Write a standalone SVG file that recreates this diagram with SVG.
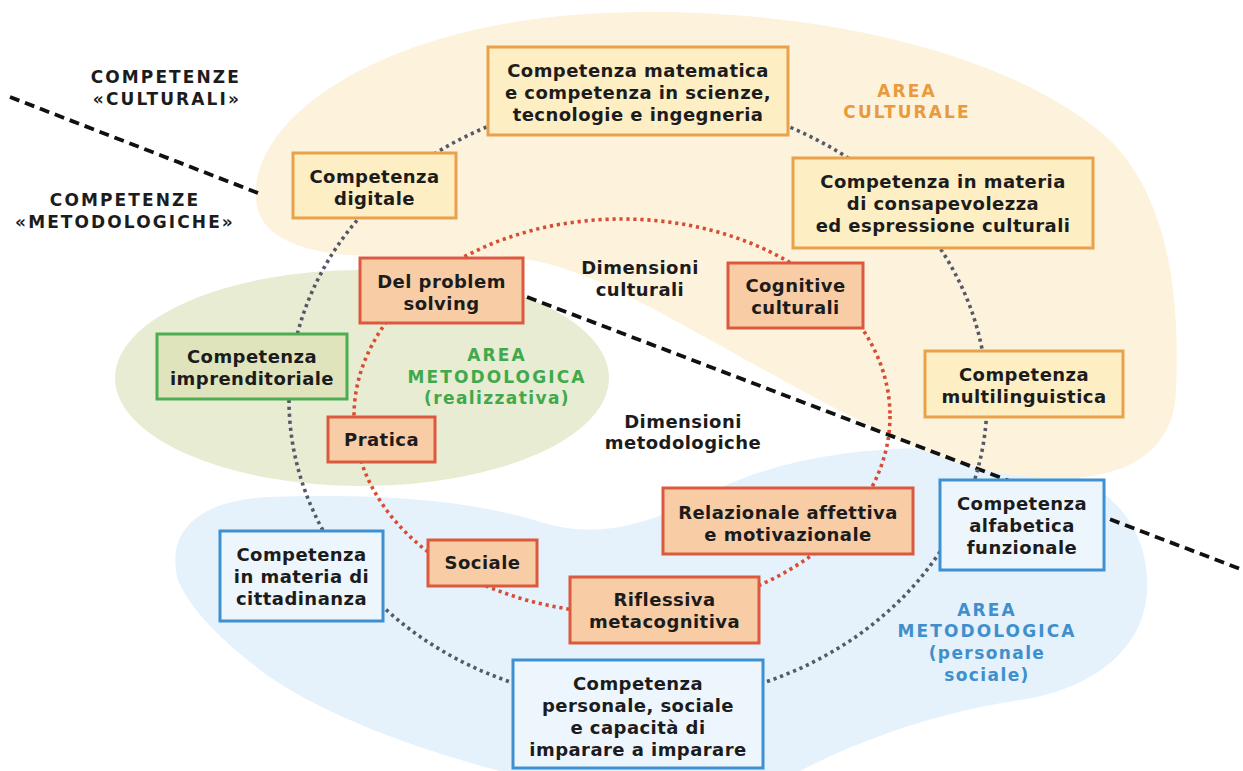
<svg xmlns="http://www.w3.org/2000/svg" width="1243" height="771" viewBox="0 0 1243 771">
  <style>
    .t { font-family: "DejaVu Sans", "Liberation Sans", sans-serif; font-weight: bold; font-size: 18px; fill: #1c1c1c; text-anchor: middle; letter-spacing: 0.45px; }
    .cap { font-family: "DejaVu Sans", "Liberation Sans", sans-serif; font-weight: bold; font-size: 17px; text-anchor: middle; letter-spacing: 2.1px; }
    .low { letter-spacing: 1.4px; }
    .k { fill: #1c1c1c; }
    .or { fill: #e89a3c; }
    .gr { fill: #3fa94c; }
    .bl { fill: #3f8fcd; }
    .by { fill: #fdeec4; stroke: #e9a24a; stroke-width: 3; }
    .bp { fill: #f8cda6; stroke: #db5a3f; stroke-width: 3; }
    .bg { fill: #dfe4bd; stroke: #4cae50; stroke-width: 3; }
    .bb { fill: #eef6fd; stroke: #3f90d0; stroke-width: 3; }
    .dot-g { fill: none; stroke: #555868; stroke-width: 3.6; stroke-dasharray: 3.2 3.8; }
    .dot-r { fill: none; stroke: #d84c34; stroke-width: 3.6; stroke-dasharray: 3.2 3.8; }
    .dash { fill: none; stroke: #111; stroke-width: 3.8; stroke-dasharray: 10 6; }
  </style>

  <rect width="1243" height="771" fill="#ffffff"/>

  <!-- background areas -->
  <g id="areas">
    <path id="area-personale" fill="#e5f1fb" d="M 178,580 C 165,530 200,500 270,497 C 380,493 470,500 540,522 C 600,540 650,525 720,488 C 800,450 920,440 1010,455 C 1100,470 1150,520 1147,590 C 1145,650 1090,690 1020,700 C 920,715 840,750 800,771 L 500,771 C 420,750 320,715 260,670 C 215,635 188,605 178,580 Z"/>
    <ellipse id="area-realizzativa" cx="362" cy="378" rx="247" ry="108" fill="#e8ecd3"/>
    <path id="area-culturale" fill="#fdf2dc" d="M 256,200 C 250,120 370,35 560,16 C 760,-2 1000,40 1110,140 C 1170,200 1180,300 1176,390 C 1174,450 1130,478 1060,478 C 1010,478 960,468 900,440 C 800,395 700,330 600,282 C 560,265 530,258 500,256 L 380,256 C 320,256 260,245 256,200 Z"/>
  </g>

  <!-- connectors -->
  <g id="connectors">
    <line class="dash" x1="10" y1="97" x2="258" y2="193"/>
    <line class="dash" x1="527" y1="297" x2="1243" y2="570"/>
    <ellipse class="dot-g" cx="638" cy="400" rx="349" ry="303"/>
    <ellipse class="dot-r" cx="622" cy="416" rx="268" ry="197"/>
  </g>

  <!-- free labels -->
  <g id="labels">
    <text class="cap k" x="241" y="83" style="text-anchor:end">COMPETENZE</text>
    <text class="cap k" x="241" y="105" style="text-anchor:end">«CULTURALI»</text>
    <text class="cap k" x="125" y="206">COMPETENZE</text>
    <text class="cap k" x="125" y="228">«METODOLOGICHE»</text>
    <text class="cap or" x="907" y="97">AREA</text>
    <text class="cap or" x="907" y="118">CULTURALE</text>
    <text class="cap gr" x="497" y="361">AREA</text>
    <text class="cap gr" x="497" y="383">METODOLOGICA</text>
    <text class="cap gr low" x="497" y="404">(realizzativa)</text>
    <text class="cap bl" x="987" y="616">AREA</text>
    <text class="cap bl" x="987" y="637">METODOLOGICA</text>
    <text class="cap bl low" x="987" y="659">(personale</text>
    <text class="cap bl low" x="987" y="681">sociale)</text>
    <text class="t" x="640" y="274">Dimensioni</text>
    <text class="t" x="640" y="296">culturali</text>
    <text class="t" x="683" y="428">Dimensioni</text>
    <text class="t" x="683" y="449">metodologiche</text>
  </g>

  <!-- competences (outer ring) -->
  <g id="matematica">
    <rect class="by" x="488" y="47" width="300" height="88"/>
    <text class="t" x="638" y="76.5">Competenza matematica</text>
    <text class="t" x="638" y="98.5">e competenza in scienze,</text>
    <text class="t" x="638" y="120.5">tecnologie e ingegneria</text>
  </g>
  <g id="digitale">
    <rect class="by" x="293" y="153" width="163" height="65"/>
    <text class="t" x="374.5" y="182.5">Competenza</text>
    <text class="t" x="374.5" y="204.5">digitale</text>
  </g>
  <g id="consapevolezza">
    <rect class="by" x="793" y="158" width="300" height="90"/>
    <text class="t" x="943" y="188">Competenza in materia</text>
    <text class="t" x="943" y="210">di consapevolezza</text>
    <text class="t" x="943" y="232">ed espressione culturali</text>
  </g>
  <g id="multilinguistica">
    <rect class="by" x="925" y="351" width="198" height="66"/>
    <text class="t" x="1024" y="381">Competenza</text>
    <text class="t" x="1024" y="403">multilinguistica</text>
  </g>
  <g id="alfabetica">
    <rect class="bb" x="940" y="480" width="164" height="90"/>
    <text class="t" x="1022" y="510">Competenza</text>
    <text class="t" x="1022" y="532">alfabetica</text>
    <text class="t" x="1022" y="554">funzionale</text>
  </g>
  <g id="personale">
    <rect class="bb" x="513" y="660" width="250" height="108"/>
    <text class="t" x="638" y="689.5">Competenza</text>
    <text class="t" x="638" y="711.5">personale, sociale</text>
    <text class="t" x="638" y="733.5">e capacità di</text>
    <text class="t" x="638" y="755.5">imparare a imparare</text>
  </g>
  <g id="cittadinanza">
    <rect class="bb" x="220" y="531" width="163" height="90"/>
    <text class="t" x="301.5" y="561">Competenza</text>
    <text class="t" x="301.5" y="583">in materia di</text>
    <text class="t" x="301.5" y="605">cittadinanza</text>
  </g>
  <g id="imprenditoriale">
    <rect class="bg" x="157" y="334" width="190" height="65"/>
    <text class="t" x="252" y="363">Competenza</text>
    <text class="t" x="252" y="385">imprenditoriale</text>
  </g>

  <!-- dimensions (inner ring) -->
  <g id="problem-solving">
    <rect class="bp" x="360" y="258" width="163" height="65"/>
    <text class="t" x="441.5" y="288">Del problem</text>
    <text class="t" x="441.5" y="310">solving</text>
  </g>
  <g id="cognitive">
    <rect class="bp" x="728" y="263" width="135" height="65"/>
    <text class="t" x="795.5" y="292">Cognitive</text>
    <text class="t" x="795.5" y="314">culturali</text>
  </g>
  <g id="pratica">
    <rect class="bp" x="328" y="417" width="107" height="45"/>
    <text class="t" x="381.5" y="446">Pratica</text>
  </g>
  <g id="sociale">
    <rect class="bp" x="428" y="540" width="109" height="46"/>
    <text class="t" x="482.5" y="569">Sociale</text>
  </g>
  <g id="riflessiva">
    <rect class="bp" x="570" y="577" width="189" height="66"/>
    <text class="t" x="664.5" y="606">Riflessiva</text>
    <text class="t" x="664.5" y="628">metacognitiva</text>
  </g>
  <g id="relazionale">
    <rect class="bp" x="663" y="488" width="250" height="66"/>
    <text class="t" x="788" y="519">Relazionale affettiva</text>
    <text class="t" x="788" y="541">e motivazionale</text>
  </g>
</svg>
